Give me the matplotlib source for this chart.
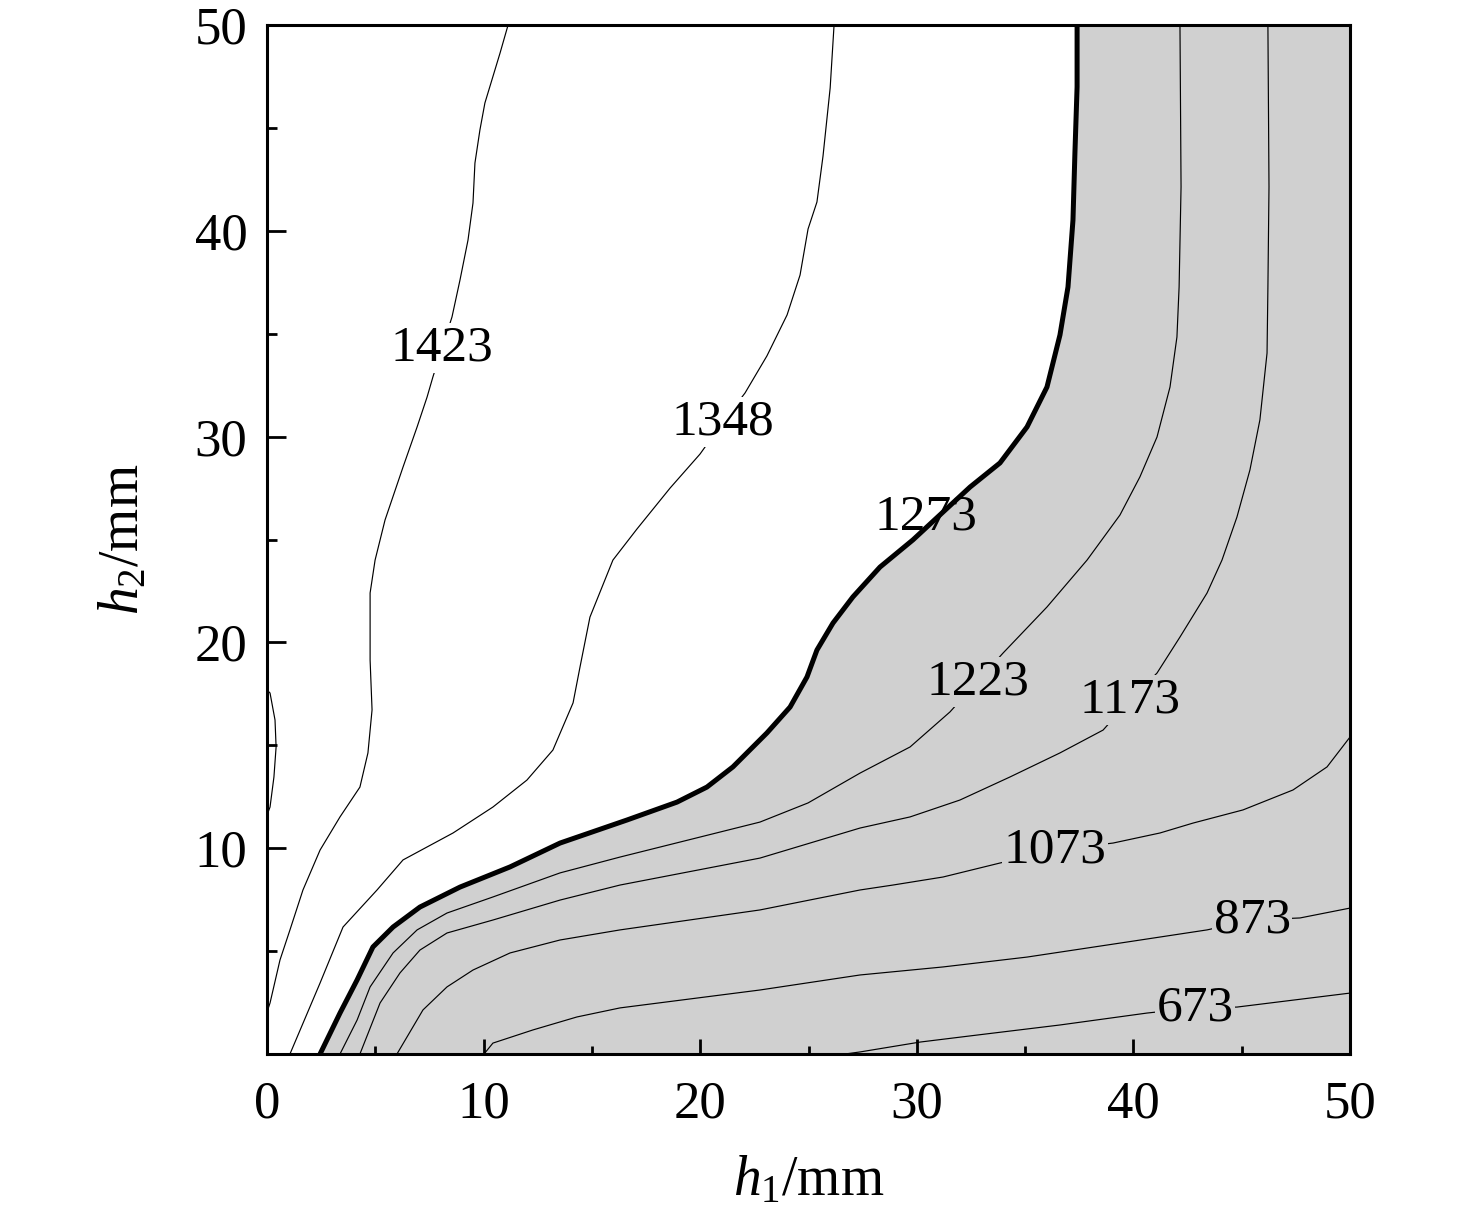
import matplotlib
matplotlib.use("Agg")
import matplotlib.pyplot as plt
from matplotlib.ticker import MultipleLocator

plt.rcParams['font.family'] = ['Liberation Serif', 'DejaVu Serif']
plt.rcParams['mathtext.fontset'] = 'custom'
plt.rcParams['mathtext.rm'] = 'Liberation Serif'
plt.rcParams['mathtext.it'] = 'Liberation Serif:italic'

# ---- contour lines (h1 in mm, h2 in mm) ----
h1_1423 = [11.13, 10.76, 10.06, 9.83, 9.60, 9.51, 9.28, 8.91, 8.54, 8.08, 7.66, 7.39, 6.93, 6.28,
           5.45, 4.99, 4.76, 4.76, 4.85, 4.66, 4.29, 3.37, 2.45, 1.66, 1.06, 0.60, 0.14, 0.0]
h2_1423 = [50.0, 48.64, 46.21, 44.90, 43.29, 41.35, 39.55, 37.61, 35.81, 34.30, 32.90, 31.92, 30.47, 28.52,
           25.95, 24.00, 22.40, 19.14, 16.72, 14.63, 12.97, 11.52, 9.91, 7.97, 6.03, 4.57, 2.48, 2.04]

h1_1348 = [26.18, 26.00, 25.67, 25.39, 24.98, 24.61, 24.01, 23.08, 22.07, 21.05, 19.99, 18.61, 17.08,
           15.97, 14.91, 14.45, 14.13, 13.20, 12.00, 10.43, 8.59, 6.28, 5.08, 3.51, 2.45, 1.06]
h2_1348 = [50.0, 46.94, 43.63, 41.40, 40.09, 37.85, 35.91, 33.92, 32.12, 30.71, 29.15, 27.50, 25.51,
           24.00, 21.23, 18.80, 17.06, 14.77, 13.31, 12.00, 10.74, 9.43, 7.97, 6.17, 3.45, 0.0]

h1_1273 = [37.40, 37.40, 37.30, 37.21, 36.98, 36.61, 36.01, 35.09, 33.84, 32.46, 29.82, 28.30, 27.05,
           26.13, 25.39, 24.93, 24.15, 23.08, 21.51, 20.31, 18.93, 16.62, 13.53, 11.22, 8.91, 7.06,
           5.82, 4.89, 4.16, 3.37, 2.45]
h2_1273 = [50.0, 46.99, 43.78, 40.52, 37.27, 34.94, 32.41, 30.47, 28.72, 27.55, 24.98, 23.66, 22.21,
           20.94, 19.63, 18.32, 16.86, 15.60, 13.95, 12.97, 12.24, 11.37, 10.25, 9.09, 8.11, 7.14,
           6.17, 5.20, 3.60, 1.99, 0.0]

h1_1223 = [42.15, 42.20, 42.11, 42.01, 41.69, 41.09, 40.30, 39.38, 37.86, 36.01, 33.98, 32.78, 31.53,
           29.69, 27.38, 24.98, 22.76, 16.30, 13.53, 10.43, 8.31, 6.93, 5.82, 4.76, 4.16, 3.37]
h2_1223 = [50.0, 42.13, 37.27, 34.84, 32.41, 29.98, 28.04, 26.19, 24.00, 21.72, 19.48, 18.08, 16.62,
           14.92, 13.65, 12.20, 11.27, 9.57, 8.80, 7.63, 6.85, 6.03, 4.91, 3.26, 1.65, 0.0]

h1_1173 = [46.21, 46.26, 46.21, 46.17, 45.84, 45.38, 44.78, 44.09, 43.40, 42.15, 41.09, 39.84, 38.60,
           36.61, 34.30, 31.99, 29.69, 27.38, 22.76, 16.30, 13.53, 10.43, 8.31, 7.06, 6.14, 5.22, 4.29]
h2_1173 = [50.0, 42.13, 37.27, 34.06, 30.81, 28.38, 26.09, 24.00, 22.40, 20.26, 18.51, 17.20, 15.74,
           14.63, 13.46, 12.34, 11.52, 10.98, 9.52, 8.21, 7.48, 6.51, 5.88, 5.05, 3.94, 2.48, 0.0]

h1_1073 = [50.0, 48.94, 47.37, 45.06, 42.75, 41.23, 39.06, 36.38, 33.84, 31.21, 28.90, 27.38, 22.76,
           16.30, 13.53, 11.22, 9.51, 8.31, 7.20, 6.00]
h2_1073 = [15.40, 13.95, 12.83, 11.86, 11.22, 10.74, 10.25, 9.91, 9.28, 8.60, 8.21, 7.97, 7.00,
           6.03, 5.54, 4.91, 4.08, 3.26, 2.14, 0.0]

h1_873 = [50.0, 47.69, 45.48, 43.40, 39.70, 35.09, 31.21, 27.38, 22.76, 16.30, 14.31, 12.28, 10.43, 10.02]
h2_873 = [7.09, 6.61, 6.51, 6.03, 5.44, 4.71, 4.23, 3.84, 3.11, 2.24, 1.80, 1.17, 0.53, 0.0]

h1_673 = [50.0, 44.78, 42.84, 40.63, 36.61, 32.78, 30.15, 27.38, 26.69]
h2_673 = [2.96, 2.28, 2.24, 1.99, 1.41, 0.92, 0.58, 0.10, 0.0]

# small closed contour at the left edge (unlabelled)
h1_small = [0.0, 0.14, 0.37, 0.42, 0.32, 0.14, 0.0]
h2_small = [17.69, 17.54, 16.23, 14.92, 13.46, 12.00, 11.61]

# contour labels: text, h1, h2
label_text = ['1423', '1348', '1273', '1223', '1173', '1073', '873', '673']
label_h1 = [8.08, 21.05, 30.4, 32.8, 39.84, 36.38, 45.48, 42.84]
label_h2 = [34.30, 30.71, 26.1, 18.08, 17.20, 9.91, 6.51, 2.24]

xticks = [0, 10, 20, 30, 40, 50]
xticklabels = ['0', '10', '20', '30', '40', '50']
yticks = [0, 10, 20, 30, 40, 50]
yticklabels = ['', '10', '20', '30', '40', '50']

GREY = '#d0d0d0'

fig = plt.figure(figsize=(14.76, 12.24), dpi=100)
ax = fig.add_axes([267/1476, 1 - 1054/1224, 1083/1476, 1029/1224])

# shaded region right of the 1273 isoline
ax.fill(h1_1273 + [50, 50], h2_1273 + [0, 50], color=GREY, lw=0, zorder=1)

thin = dict(color='black', lw=0.85, zorder=3, solid_joinstyle='round')
for xs, ys in [(h1_1423, h2_1423), (h1_1348, h2_1348), (h1_1223, h2_1223), (h1_1173, h2_1173),
               (h1_1073, h2_1073), (h1_873, h2_873), (h1_673, h2_673), (h1_small, h2_small)]:
    ax.plot(xs, ys, **thin)
ax.plot(h1_1273, h2_1273, color='black', lw=3.6, zorder=3, solid_capstyle='butt',
        solid_joinstyle='round')

for t, x, y in zip(label_text, label_h1, label_h2):
    if t in ('1423', '1348'):
        bb = dict(facecolor='white', edgecolor='none', pad=1)
    elif t == '1273':
        bb = None
    else:
        bb = dict(facecolor=GREY, edgecolor='none', pad=1)
    ax.text(x, y, t, ha='center', va='center', fontsize=37, zorder=4, bbox=bb)

ax.set_xlim(0, 50)
ax.set_ylim(0, 50)
ax.set_xticks(xticks)
ax.set_xticklabels(xticklabels)
ax.set_yticks(yticks)
ax.set_yticklabels(yticklabels)
ax.xaxis.set_minor_locator(MultipleLocator(5))
ax.yaxis.set_minor_locator(MultipleLocator(5))
ax.tick_params(axis='x', which='major', direction='in', length=10.5, width=2, labelsize=38, pad=19,
               top=False)
ax.tick_params(axis='x', which='minor', direction='in', length=5.5, width=2, top=False)
ax.tick_params(axis='y', which='major', direction='in', length=14, width=2, labelsize=38, pad=14,
               right=False)
ax.tick_params(axis='y', which='minor', direction='in', length=7, width=2, right=False)
for s in ax.spines.values():
    s.set_linewidth(2.2)
    s.set_zorder(5)

ax.set_xlabel(r'$h_1$/mm', fontsize=40)
ax.set_ylabel(r'$h_2$/mm', fontsize=40)
ax.xaxis.set_label_coords(0.5, -0.098)
ax.yaxis.set_label_coords(-0.108, 0.5)

fig.savefig('out.png', dpi=100)
